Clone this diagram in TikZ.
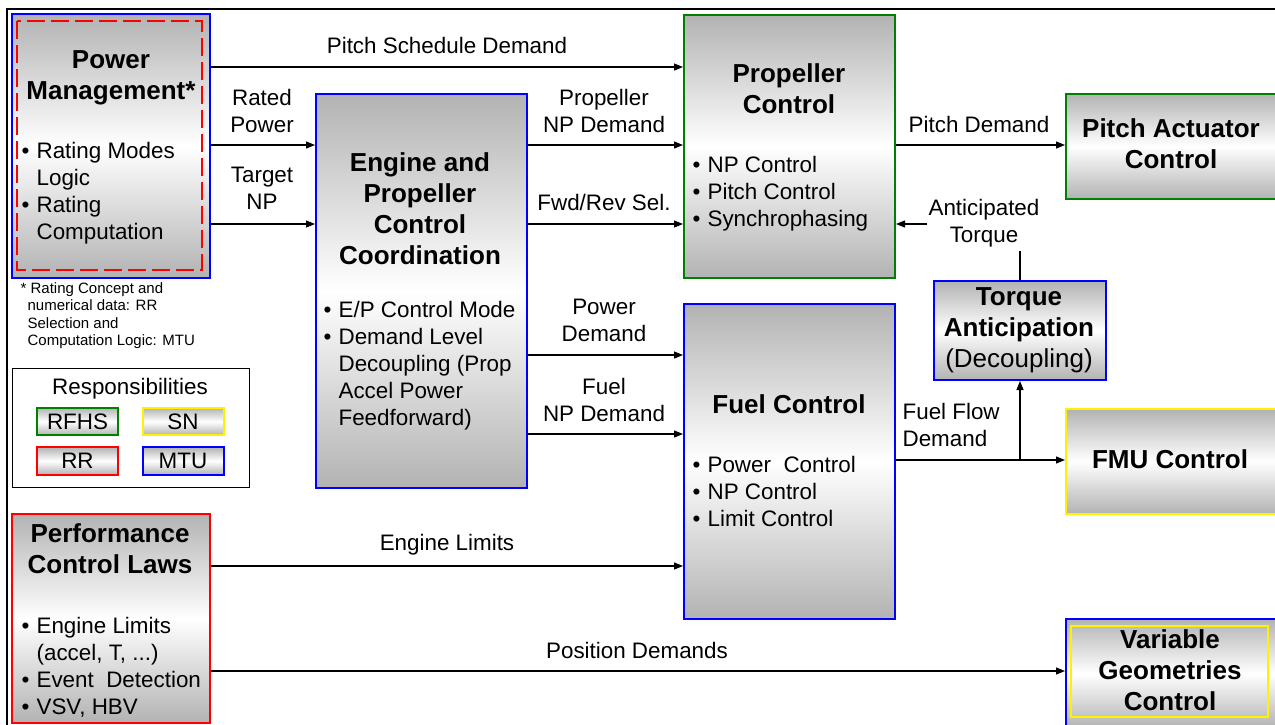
\documentclass[tikz,border=0pt]{standalone}
\usepackage{fontspec}
\setmainfont{Liberation Sans}
\usetikzlibrary{%
  arrows,%
  arrows.meta,%
  positioning,%
  calc%
}
\newcommand{\blt}{\makebox[7.5pt][l]{\textbullet}}
\newcommand{\bsp}{\hspace*{7.5pt}}

\begin{document}
\begin{tikzpicture}[
  x=0.5pt, y=-0.5pt,
  font=\fontsize{11.2}{13.5}\selectfont, >={Triangle[length=4.5pt,width=3.5pt]}, line width=0.6pt,
  blk/.style={rectangle, anchor=north west, inner sep=0pt, line width=1pt,
    top color=gray!60, bottom color=gray!60, middle color=white},
  ttl/.style={font=\fontsize{13}{15.5}\selectfont\bfseries, align=center, inner sep=0pt},
  lst/.style={align=left, anchor=west, inner sep=0pt},
  lbl/.style={align=center, inner sep=0pt},
  tag/.style={rectangle, inner sep=0pt, line width=1pt, minimum width=40.5pt,
    minimum height=13.75pt, top color=gray!60, bottom color=gray!60, middle color=white}
]
\useasboundingbox (0,0) rectangle (1275,724);
\clip (0,0) rectangle (1275,724);

\draw[line width=1.2pt] (7,740) -- (7,9) -- (1290,9);

\node[blk, draw=blue, minimum width=99pt, minimum height=132pt] (pm) at (11,13) {};
\draw[red, line width=1pt, dash pattern=on 9pt off 3pt] (17,21) rectangle (202,270);
\node[blk, draw=blue, minimum width=105.5pt, minimum height=197pt] (epc) at (315,93) {};
\node[blk, draw=green!50!black, minimum width=105.5pt, minimum height=131.5pt] (prop) at (683,14) {};
\node[blk, draw=blue, minimum width=105.5pt, minimum height=157.5pt] (fuel) at (683,303) {};
\node[blk, draw=green!50!black, minimum width=106.5pt, minimum height=52.5pt] (pitch) at (1065,93) {};
\node[blk, draw=blue, minimum width=86pt, minimum height=49.5pt] (torq) at (933,280) {};
\node[blk, draw=yellow, minimum width=106.5pt, minimum height=52.5pt] (fmu) at (1065,408) {};
\node[blk, draw=blue, minimum width=106pt, minimum height=54.5pt] (vg) at (1065,618) {};
\draw[yellow, line width=1pt] (1071,626) rectangle (1268,717);
\node[blk, draw=red, minimum width=99pt, minimum height=104.5pt] (perf) at (11,513) {};
\node[draw, anchor=north west, inner sep=0pt, minimum width=118.5pt, minimum height=59.5pt] (leg) at (12,368) {};

\node[ttl] (pmt) at (111,78) {Power\\Management*};
\node[lst] (pml) at (21,193) {\blt Rating Modes\\\bsp Logic\\\blt Rating\\\bsp Computation};
\node[lst, font=\fontsize{7.5}{8.75}\selectfont] (note) at (20,315.5)
  {* Rating Concept and\\\hspace*{3.5pt}numerical data: RR\\\hspace*{3.5pt}Selection and\\\hspace*{3.5pt}Computation Logic: MTU};
\node[ttl] (epct) at (420,208.5) {Engine and\\Propeller\\Control\\Coordination};
\node[lst] (epcl) at (323,365.5)
  {\blt E/P Control Mode\\\blt Demand Level\\\bsp Decoupling (Prop\\\bsp Accel Power\\\bsp Feedforward)};
\node[ttl] (propt) at (789,89) {Propeller\\Control};
\node[lst] (propl) at (692,194) {\blt NP Control\\\blt Pitch Control\\\blt Synchrophasing};
\node[ttl] (fuelt) at (789,404) {Fuel Control};
\node[lst] (fuell) at (692,491) {\blt Power\ \ Control\\\blt NP Control\\\blt Limit Control};
\node[ttl] (pitcht) at (1171,144) {Pitch Actuator\\Control};
\node[ttl] (torqt) at (1019,330) {Torque\\Anticipation\\\mdseries(Decoupling)};
\node[ttl] (fmut) at (1170,459) {FMU Control};
\node[ttl] (vgt) at (1170,670) {Variable\\Geometries\\Control};
\node[ttl] (perft) at (110,549) {Performance\\Control Laws};
\node[lst] (perfl) at (21,667)
  {\blt Engine Limits\\\bsp (accel, T, ...)\\\blt Event\ \ Detection\\\blt VSV, HBV};

\node[lbl] (legt) at (130,389) {Responsibilities};
\node[tag, draw=green!50!black] (rfhs) at (77.5,421.5) {RFHS};
\node[tag, draw=yellow] (sn) at (183,421.5) {SN};
\node[tag, draw=red] (rr) at (77.5,461) {RR};
\node[tag, draw=blue] (mtu) at (183,461) {MTU};

\draw[->] (pm.east |- 0,67) -- (prop.west |- 0,67);
\foreach \y in {145,224} {
  \draw[->] (pm.east |- 0,\y) -- (epc.west |- 0,\y);
  \draw[->] (epc.east |- 0,\y) -- (prop.west |- 0,\y);
}
\foreach \y in {355,434} {
  \draw[->] (epc.east |- 0,\y) -- (fuel.west |- 0,\y);
}
\draw[->] (perf.east |- 0,566) -- (fuel.west |- 0,566);
\draw[->] (perf.east |- 0,671) -- (vg.west |- 0,671);
\draw[->] (prop.east |- 0,145) -- (pitch.west |- 0,145);
\draw[->] (fuel.east |- 0,460) -- (fmu.west |- 0,460);
\coordinate (fsplit) at (torq.south |- 0,460);
\draw[->] (fsplit) -- (torq.south);
\coordinate (ttop) at (torq.north |- 0,251);
\draw (torq.north) -- (ttop);
\coordinate (tstart) at (927,224);
\draw[->] (tstart) -- (prop.east |- tstart);

\node[lbl] (psd) at (447,45) {Pitch Schedule Demand};
\node[lbl] (rp) at (262,110.5) {Rated\\Power};
\node[lbl] (tnp) at (262,188) {Target\\NP};
\node[lbl] (pnp) at (604,110.5) {Propeller\\NP Demand};
\node[lbl] (frs) at (604,202) {Fwd/Rev Sel.};
\node[lbl] (pwd) at (604,320.5) {Power\\Demand};
\node[lbl] (fnp) at (604,399.5) {Fuel\\NP Demand};
\node[lbl] (eld) at (447,545) {Engine Limits};
\node[lbl] (posd) at (637,650) {Position Demands};
\node[lbl] (ptd) at (979,124) {Pitch Demand};
\node[lbl] (atq) at (984,223.5) {Anticipated\\Torque};
\node[lst] (ffd) at (902,425) {Fuel Flow\\Demand};
\end{tikzpicture}
\end{document}
